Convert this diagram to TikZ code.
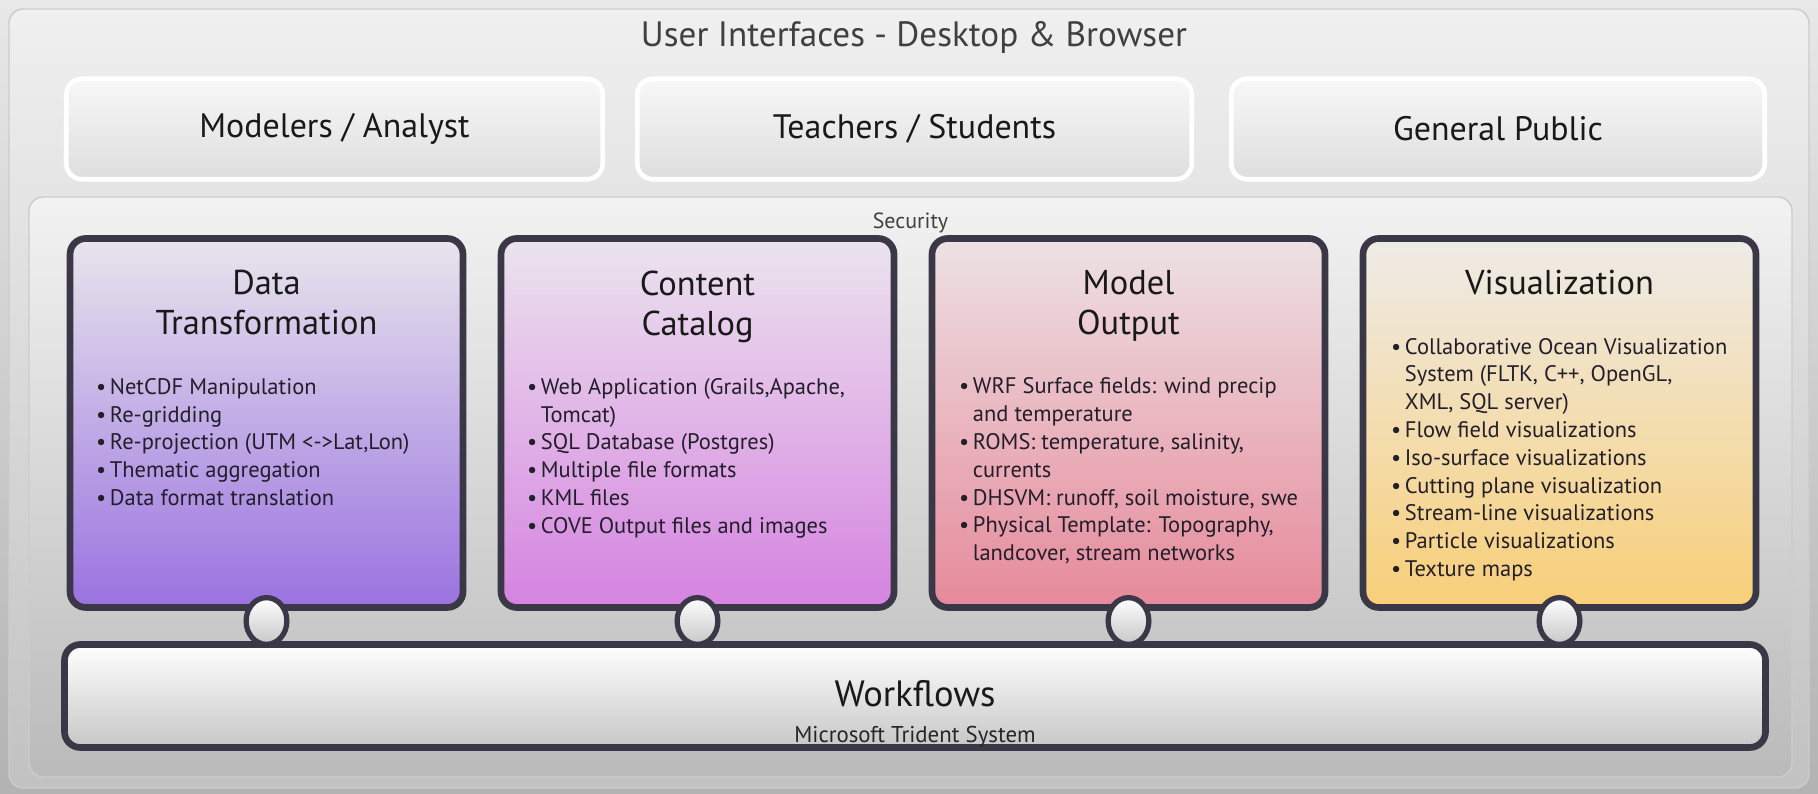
\documentclass[tikz,border=0pt]{standalone}
\usepackage{fontspec}
\setmainfont{PT Sans}
\usepackage{xcolor}
\usetikzlibrary{positioning, calc, shapes.geometric}

\definecolor{edgedark}{HTML}{3A3846}
\definecolor{inktext}{HTML}{221E2A}
\definecolor{dttop}{HTML}{E8E5EC}
\definecolor{dtpurple}{HTML}{9A72E0}
\definecolor{cctop}{HTML}{ECE4EE}
\definecolor{ccorchid}{HTML}{D583E0}
\definecolor{motop}{HTML}{EDE2E4}
\definecolor{mopink}{HTML}{E6899A}
\definecolor{vistop}{HTML}{EEEBE8}
\definecolor{visyellow}{HTML}{F8CF78}

\newcommand{\itembul}{\makebox[0.62em][l]{\textbullet}}
\newcommand{\itemcont}{\hspace*{0.62em}}

\begin{document}
\begin{tikzpicture}[
  every node/.style={outer sep=0pt},
  panel/.style={rectangle, rounded corners=8pt, draw=black!20, line width=0.8pt},
  userbox/.style={rectangle, rounded corners=9pt, draw=white, line width=2.6pt,
    top color=black!3, bottom color=black!13, minimum height=2.01cm,
    font=\fontsize{19.3}{23}\selectfont, text=black!90},
  module/.style={rectangle, rounded corners=9pt, draw=edgedark, line width=3.8pt,
    minimum width=7.86cm, minimum height=7.38cm},
  heading/.style={align=center, inner sep=0pt, font=\fontsize{19.6}{22.8}\selectfont,
    text=black!90, execute at end node=\vphantom{g}},
  blist/.style={align=left, inner sep=0pt, anchor=north west,
    font=\fontsize{12.8}{15.8}\selectfont, text=inktext},
  joint/.style={ellipse, draw=edgedark, line width=3pt, top color=white,
    bottom color=black!22, minimum width=0.815cm, minimum height=0.935cm}
]
\fill[top color=black!9, bottom color=black!30] (0,0) rectangle (36.36,15.88);
\useasboundingbox (0,0) rectangle (36.36,15.88);

\node[panel, top color=black!6, bottom color=black!24, minimum width=36cm, minimum height=15.58cm] (frame) at (18.18,7.91) {};
\node[font=\fontsize{20}{24}\selectfont, text=black!75] (ui-title) at (18.28,15.12) {User Interfaces - Desktop \& Browser};

\node[userbox, minimum width=10.73cm] (analyst) at (6.69,13.3) {Modelers / Analyst};
\node[userbox, minimum width=11.09cm, right=0.69cm of analyst] (teach) {Teachers / Students};
\node[userbox, minimum width=10.67cm, right=0.79cm of teach] (public) {General Public};

\node[panel, top color=black!5, bottom color=black!27, minimum width=35.26cm, minimum height=11.6cm] (sec) at (18.21,6.14) {};
\node[font=\fontsize{12.5}{14}\selectfont, text=black!75, below=0.2cm of sec.north] (sec-label) {Security};

\node[module, top color=dttop, bottom color=dtpurple] (dt) at (5.33,7.42) {};
\node[module, top color=cctop, bottom color=ccorchid, right=0.76cm of dt] (cc) {};
\node[module, top color=motop, bottom color=mopink, right=0.76cm of cc] (mo) {};
\node[module, top color=vistop, bottom color=visyellow, right=0.76cm of mo] (vis) {};

\node[heading, below=0.64cm of dt.north] (dt-title) {Data\\Transformation};
\node[heading, below=0.64cm of cc.north] (cc-title) {Content\\Catalog};
\node[heading, below=0.64cm of mo.north] (mo-title) {Model\\Output};
\node[heading, below=0.64cm of vis.north] (vis-title) {Visualization};

\node[blist] (dt-list) at ($(dt-title.south -| dt.west)+(0.52,-0.72)$) {%
  \itembul NetCDF Manipulation\\
  \itembul Re-gridding\\
  \itembul Re-projection (UTM <->Lat,Lon)\\
  \itembul Thematic aggregation\\
  \itembul Data format translation};
\node[blist] (cc-list) at ($(cc-title.south -| cc.west)+(0.52,-0.72)$) {%
  \itembul Web Application (Grails,Apache,\\
  \itemcont Tomcat)\\
  \itembul SQL Database (Postgres)\\
  \itembul Multiple file formats\\
  \itembul KML files\\
  \itembul COVE Output files and images};
\node[blist] (mo-list) at ($(mo-title.south -| mo.west)+(0.54,-0.72)$) {%
  \itembul WRF Surface fields: wind precip\\
  \itemcont and temperature\\
  \itembul ROMS: temperature, salinity,\\
  \itemcont currents\\
  \itembul DHSVM: runoff, soil moisture, swe\\
  \itembul Physical Template: Topography,\\
  \itemcont landcover, stream networks};
\node[blist] (vis-list) at ($(vis-title.south -| vis.west)+(0.56,-0.72)$) {%
  \itembul Collaborative Ocean Visualization\\
  \itemcont System (FLTK, C++, OpenGL,\\
  \itemcont XML, SQL server)\\
  \itembul Flow field visualizations\\
  \itembul Iso-surface visualizations\\
  \itembul Cutting plane visualization\\
  \itembul Stream-line visualizations\\
  \itembul Particle visualizations\\
  \itembul Texture maps};

\node[rectangle, rounded corners=9pt, draw=edgedark, line width=3.8pt, top color=white, bottom color=black!22,
  minimum width=34.02cm, minimum height=2.06cm] (wf) at (18.3,1.96) {};
\node[font=\fontsize{20.8}{24}\selectfont, text=black!90] (wf-title) at ([yshift=0.05cm]wf.center) {Workflows};
\node[font=\fontsize{13}{15}\selectfont, text=black!85, below=0.16cm of wf-title] (wf-sub) {Microsoft Trident System};

\node[joint] (dt-joint) at ([yshift=-0.27cm]dt.south) {};
\node[joint] (cc-joint) at ([yshift=-0.27cm]cc.south) {};
\node[joint] (mo-joint) at ([yshift=-0.27cm]mo.south) {};
\node[joint] (vis-joint) at ([yshift=-0.27cm]vis.south) {};
\end{tikzpicture}
\end{document}
